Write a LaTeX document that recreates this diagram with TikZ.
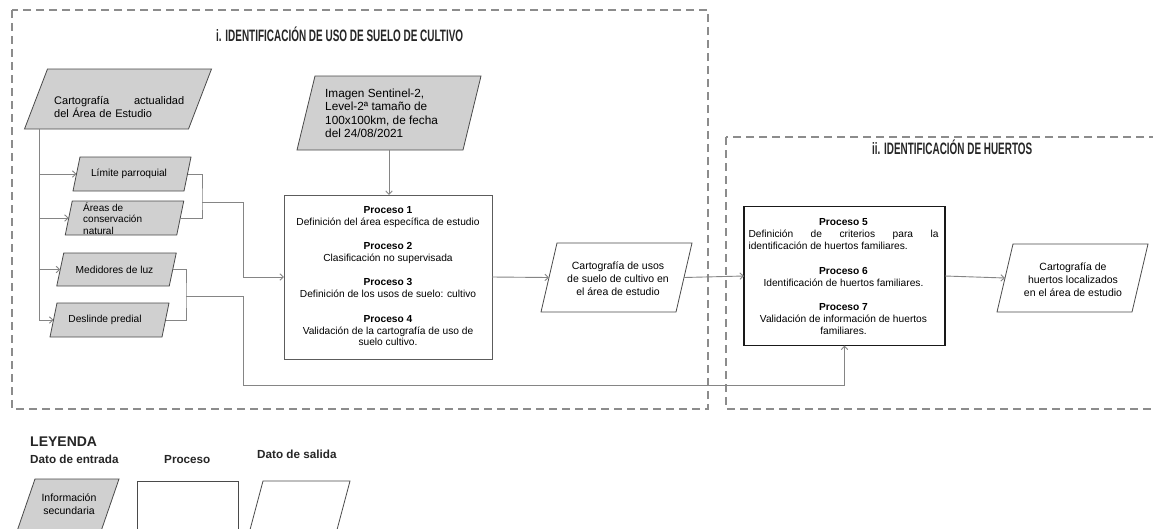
\documentclass[tikz,border=0pt]{standalone}
\usepackage{fontspec}
\setmainfont{Liberation Sans}
\usepackage{graphicx}
\usetikzlibrary{arrows.meta,calc}

\definecolor{lineg}{HTML}{858585}
\definecolor{dashg}{HTML}{8C8C8C}
\definecolor{fillg}{HTML}{D0D0D0}
\definecolor{edgeg}{HTML}{4A4A4A}

\newcommand\paradraw[3]{%
  \draw[#3] ([xshift=#2]#1.north west) -- ([xshift=#2]#1.north east) --
    ([xshift=-#2]#1.south east) -- ([xshift=-#2]#1.south west) -- cycle;}

\tikzset{
  conn/.style={draw=lineg, line width=0.9pt},
  arr/.style={conn, -{Straight Barb[length=3.5pt,width=6.5pt]}},
  zone/.style={draw=dashg, line width=1.2pt, dash pattern=on 8pt off 5pt},
  shapebox/.style 2 args={minimum width=#1, minimum height=#2, inner sep=0pt, outer sep=0pt},
  inpara/.style={draw=edgeg, fill=fillg, line width=0.8pt},
  outpara/.style={draw=edgeg, line width=0.8pt},
  txt/.style={inner sep=0pt, font=\fontsize{10.2}{12}\selectfont, align=center},
  ztitle/.style={inner sep=0pt, font=\fontsize{16.5}{17}\selectfont\bfseries, text=black!85},
}

\begin{document}
\begin{tikzpicture}[x=1pt, y=-1pt]
\useasboundingbox (0,0) rectangle (1153,528);
\clip (0,0) rectangle (1153,528);
\fill[white] (0,0) rectangle (1153,528);

% zones
\draw[zone] (12,10) rectangle (708,409);
\draw[zone] (726,137) rectangle (1170,409);
\node[ztitle, anchor=base west] (t1) at (216,41) {\resizebox{247pt}{\height}{i. IDENTIFICACIÓN DE USO DE SUELO DE CULTIVO}};
\node[ztitle, anchor=base west] (t2) at (872,154) {\resizebox{160pt}{\height}{ii. IDENTIFICACIÓN DE HUERTOS}};

% input data shapes
\node[shapebox={164}{60}] (carto) at (118,99) {};
\paradraw{carto}{11.5pt}{inpara}
\node[txt, align=left, text width=130pt, font=\fontsize{11}{13}\selectfont, anchor=west] (cartot) at (54,106.5) {Cartografía\hfill actualidad\\del Área de Estudio};

\node[shapebox={111}{34}] (lim) at (132,174) {};
\paradraw{lim}{3.5pt}{inpara}
\node[txt] (limt) at (129,174) {Límite parroquial};

\node[shapebox={111.5}{34}] (are) at (124.5,218) {};
\paradraw{are}{3.5pt}{inpara}
\node[txt, align=left, font=\fontsize{10}{11.5}\selectfont, anchor=west] (aret) at (83,218.5) {Áreas de\\conservación\\natural};

\node[shapebox={112.5}{33}] (med) at (116.5,269.5) {};
\paradraw{med}{3.5pt}{inpara}
\node[txt] (medt) at (114.5,269.5) {Medidores de luz};

\node[shapebox={112}{34}] (des) at (109.5,320) {};
\paradraw{des}{3.5pt}{inpara}
\node[txt] (dest) at (105,320) {Deslinde predial};

\node[shapebox={166}{74}] (sen) at (389,113) {};
\paradraw{sen}{9pt}{inpara}
\node[txt, align=left, font=\fontsize{11.8}{13.5}\selectfont, anchor=west] (sent) at (325,113.5) {Imagen Sentinel-2,\\Level-2ª tamaño de\\100x100km, de fecha\\del 24/08/2021};

% process 1
\node[shapebox={208}{164}, draw=edgeg!90, line width=0.9pt] (p1) at (388,277) {};
\node[txt, font=\fontsize{10.2}{11.5}\selectfont] (p1t) at (388,276.5) {%
\textbf{Proceso 1}\\Definición del área específica de estudio\\[13pt]
\textbf{Proceso 2}\\Clasificación no supervisada\\[13pt]
\textbf{Proceso 3}\\Definición de los usos de suelo: cultivo\\[14pt]
\textbf{Proceso 4}\\Validación de la cartografía de uso de\\suelo cultivo.};

% output 1
\node[shapebox={135}{69}] (out1) at (616.5,277.5) {};
\paradraw{out1}{8pt}{outpara}
\node[txt, font=\fontsize{10.5}{13}\selectfont] (out1t) at (618,279) {Cartografía de usos\\de suelo de cultivo en\\el área de estudio};

% process 5-7
\node[shapebox={201}{139}, draw=black!90, line width=1.6pt] (p5) at (844.5,276) {};
\node[txt, font=\fontsize{10.2}{12}\selectfont] (p5t) at (843.5,277) {%
\textbf{Proceso 5}\\\makebox[190pt][s]{Definición de criterios para la}\\\makebox[190pt][l]{identificación de huertos familiares.}\\[13pt]
\textbf{Proceso 6}\\Identificación de huertos familiares.\\[12pt]
\textbf{Proceso 7}\\Validación de información de huertos\\familiares.};

% output 2
\node[shapebox={135}{68}] (out2) at (1072.5,278) {};
\paradraw{out2}{8pt}{outpara}
\node[txt, font=\fontsize{10.5}{13}\selectfont] (out2t) at (1073,279.5) {Cartografía de\\huertos localizados\\en el área de estudio};

% connectors
\coordinate (trunk) at (39.5,0);
\draw[arr] (carto.south -| trunk) |- (des.west);
\draw[arr] (trunk |- lim.west) -- (lim.west);
\draw[arr] (trunk |- are.west) -- (are.west);
\draw[arr] (trunk |- med.west) -- (med.west);

\coordinate (b1) at (202,202);
\coordinate (c1) at (243,202);
\draw[conn] (lim.east) -| (b1) |- (are.east);
\draw[arr] (b1) -- (c1) |- (p1.west);

\coordinate (b2) at (186,296);
\coordinate (c2) at (243,296);
\coordinate (low) at (0,385);
\draw[conn] (med.east) -| (b2) |- (des.east);
\draw[arr] (b2) -- (c2) |- (p5.south |- low) -- (p5.south);

\draw[arr] (sen.south) -- (sen.south |- p1.north);
\draw[arr] (p1.east) -- (out1.west);
\draw[arr] (out1.east) -- (p5.west);
\draw[arr] (p5.east) -- (out2.west);

% legend
\node[inner sep=0pt, anchor=base west, font=\fontsize{14}{14}\selectfont\bfseries, text=black!85] (ley) at (30,446) {LEYENDA};
\node[inner sep=0pt, anchor=base west, font=\fontsize{11.7}{12}\selectfont\bfseries, text=black!85] (lg1) at (30,463) {Dato de entrada};
\node[inner sep=0pt, anchor=base west, font=\fontsize{11.7}{12}\selectfont\bfseries, text=black!85] (lg2) at (164,463) {Proceso};
\node[inner sep=0pt, anchor=base west, font=\fontsize{11.7}{12}\selectfont\bfseries, text=black!85] (lg3) at (257,458) {Dato de salida};

\node[shapebox={84}{61}] (lin) at (66.5,509.5) {};
\paradraw{lin}{10.5pt}{inpara}
\node[txt, font=\fontsize{10.5}{13}\selectfont] (lint) at (69,504.5) {Información\\secundaria};
\node[shapebox={101}{60}, draw=edgeg, line width=0.8pt] (lproc) at (187.5,511) {};
\node[shapebox={87}{60}] (lout) at (298.5,511) {};
\paradraw{lout}{8pt}{outpara}
\end{tikzpicture}
\end{document}
